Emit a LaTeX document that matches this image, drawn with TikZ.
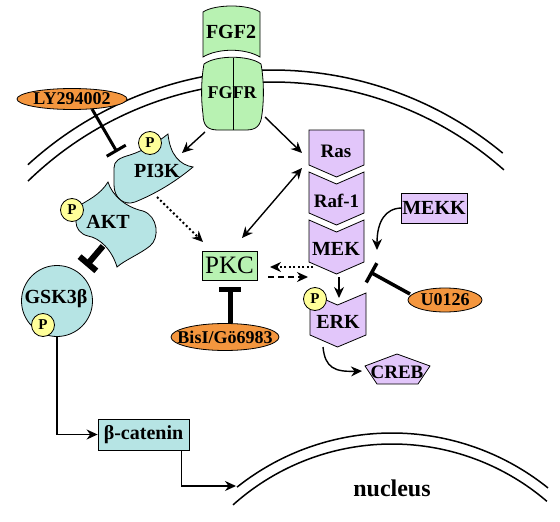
\documentclass[tikz,border=0pt]{standalone}
\usepackage{fontspec}
\setmainfont{Liberation Serif}
\usetikzlibrary{arrows.meta,shapes.geometric}
\definecolor{grn}{RGB}{184,242,178}
\definecolor{cyn}{RGB}{182,228,228}
\definecolor{lav}{RGB}{226,198,250}
\definecolor{org}{RGB}{244,150,62}
\definecolor{ylw}{RGB}{255,255,153}
\tikzset{
 shp/.style={draw=black, line width=0.8pt},
 lbl/.style={inner sep=0pt, font=\bfseries\fontsize{#1}{#1}\selectfont},
 lbl/.default=20,
 mem/.style={line width=1.5pt},
 arr/.style={line width=1.4pt, -{Stealth[length=11pt,width=10pt]}},
 dotl/.style={line width=2pt, dash pattern=on 2pt off 2.5pt},
 dashl/.style={line width=1.6pt, dash pattern=on 6pt off 4pt},
 inh/.style={line width=#1, -{Bar[width=22pt]}},
 pcirc/.style={circle, draw, fill=ylw, line width=0.8pt, minimum size=23pt, inner sep=0pt, font=\bfseries\fontsize{15}{15}\selectfont},
 oval/.style={ellipse, draw, fill=org, line width=0.8pt, inner sep=0pt},
 boxn/.style={rectangle, draw, line width=0.8pt, inner sep=0pt},
}
\begin{document}
\begin{tikzpicture}[x=1pt,y=-1pt]
\useasboundingbox (0,0) rectangle (560,522);
% cell membrane
\draw[mem] plot[domain=-132.4:-50.4, samples=90] ({272+362*cos(\x)},{432+362*sin(\x)});
\draw[mem] plot[domain=-134.2:-48.5, samples=90] ({272+350*cos(\x)},{432+350*sin(\x)});
% nuclear membrane
\draw[mem] plot[domain=-128.5:-51.2, samples=90] ({392+249*cos(\x)},{682+249*sin(\x)});
\draw[mem] plot[domain=-131.9:-49.4, samples=90] ({392+238*cos(\x)},{682+238*sin(\x)});
\node[lbl=24] (nuc) at (392,488) {nucleus};
% FGF2 and FGFR
\draw[shp, fill=grn] (203,12) .. controls (215,4) and (248,4) .. (260,12) -- (260,57)
  .. controls (245,48) and (218,48) .. (203,57) -- cycle;
\node[lbl] (fgf2) at (231,32) {FGF2};
\draw[shp, fill=grn] (204,64) .. controls (216,55) and (249,55) .. (261,64)
  .. controls (264,80) and (264,100) .. (262,114)
  .. controls (261,126) and (256,130) .. (246,130)
  -- (218,130) .. controls (208,130) and (203,126) .. (203,114)
  .. controls (201,100) and (201,80) .. (204,64) -- cycle;
\draw[line width=0.8pt] (233,58) -- (233,130);
\node[lbl=18] (fgfr) at (232,93) {FGFR};
% PI3K
\draw[shp, fill=cyn] (114,168) .. controls (114,161) and (119,158) .. (130,155)
  .. controls (145,150) and (158,142) .. (168,134)
  .. controls (170,155) and (180,165) .. (193,167)
  .. controls (180,178) and (160,192) .. (135,202)
  .. controls (124,206) and (114,198) .. (114,185) -- cycle;
\node[lbl] (pi3k) at (157,171) {PI3K};
\node[pcirc] (p1) at (150,143) {P};
% AKT
\draw[shp, fill=cyn] (76,222) -- (77,207) .. controls (88,200) and (100,195) .. (108,182)
  .. controls (112,195) and (125,207) .. (143,211)
  .. controls (158,216) and (160,238) .. (150,246)
  .. controls (140,254) and (125,260) .. (117,267)
  .. controls (112,250) and (100,238) .. (88,236)
  .. controls (80,234) and (76,228) .. (76,222) -- cycle;
\node[lbl] (akt) at (108,222) {AKT};
\node[pcirc] (p2) at (72,210) {P};
% GSK3b
\node[circle, draw, fill=cyn, line width=0.8pt, minimum size=71pt, inner sep=0pt] (gsk) at (57,301) {};
\node[lbl] (gskt) at (56,299) {GSK3β};
\node[pcirc] (p3) at (43,325) {P};
% beta-catenin
\node[boxn, fill=cyn, minimum width=91pt, minimum height=31pt] (bcat) at (143.5,434.5) {};
\node[lbl] (bcatt) at (143.5,434.5) {β-catenin};
% PKC
\node[boxn, fill=grn, minimum width=55pt, minimum height=29pt, font=\fontsize{25}{25}\selectfont] (pkc) at (229.5,265.5) {PKC};
% inhibitors
\node[oval, minimum width=110pt, minimum height=21pt] (ly) at (72,99) {};
\node[lbl=18] (lyt) at (72,99) {LY294002};
\node[oval, minimum width=108pt, minimum height=27pt] (bis) at (225,337) {};
\node[lbl=18] (bist) at (225,337) {BisI/Gö6983};
\node[oval, minimum width=74pt, minimum height=24pt] (u0) at (445,300) {};
\node[lbl=18] (u0t) at (445,300) {U0126};
% MAPK column
\draw[shp, fill=lav] (309,130) -- (364,130) -- (364,165) -- (336.5,177) -- (309,165) -- cycle;
\node[lbl=19] (ras) at (336,151) {Ras};
\draw[shp, fill=lav] (309,172) -- (336.5,184) -- (364,172) -- (364,213) -- (336.5,225) -- (309,213) -- cycle;
\node[lbl=19] (raf) at (336.5,201) {Raf-1};
\draw[shp, fill=lav] (309,220) -- (336.5,232) -- (364,220) -- (364,262) -- (336.5,274) -- (309,262) -- cycle;
\node[lbl=20] (mek) at (336,249) {MEK};
\draw[shp, fill=lav] (310,293) -- (337.5,305) -- (366,293) -- (366,335) -- (337.5,347) -- (310,335) -- cycle;
\node[lbl=20] (erk) at (338,322) {ERK};
\node[pcirc] (p4) at (315,299) {P};
\node[boxn, fill=lav, minimum width=66pt, minimum height=30pt] (mekk) at (434,208) {};
\node[lbl=20] (mekkt) at (434,208) {MEKK};
\draw[shp, fill=lav] (397,354) -- (430,366) -- (418,384) -- (377,384) -- (365,366) -- cycle;
\node[lbl=19] (creb) at (397,372) {CREB};
% connector end points
\coordinate (fgfrA) at (205,132);
\coordinate (pi3kA) at (182,153);
\coordinate (fgfrB) at (265,117);
\coordinate (rasA) at (302,153);
\coordinate (pkcA) at (242,238);
\coordinate (rasB) at (302,168);
\coordinate (pi3kB) at (157,197);
\coordinate (pkcB) at (203,242);
\coordinate (mekA) at (313,267);
\coordinate (pkcC) at (270,267);
\coordinate (pkcD) at (268,277);
\coordinate (erkA) at (308,277);
\coordinate (mekB) at (339,277);
\coordinate (erkB) at (339,298);
\coordinate (mekC) at (377,250);
\coordinate (erkC) at (323,347);
\coordinate (crebA) at (362,371);
\coordinate (lyA) at (92,109);
\coordinate (pi3kC) at (117,152);
\coordinate (aktA) at (103,246);
\coordinate (gskA) at (86,266);
\coordinate (bisA) at (230,323);
\coordinate (pkcE) at (230,287);
\coordinate (u0A) at (410,294);
\coordinate (mekD) at (370,272);
\coordinate (bcs) at ([xshift=-8pt]bcat.south east);
\coordinate (nucA) at (236,486);
% activating arrows
\draw[arr] (fgfrA) -- (pi3kA);
\draw[arr] (fgfrB) -- (rasA);
\draw[arr, {Stealth[length=11pt,width=10pt]}-{Stealth[length=11pt,width=10pt]}] (pkcA) -- (rasB);
\draw[arr, dotl] (pi3kB) -- (pkcB);
\draw[arr, dotl] (mekA) -- (pkcC);
\draw[arr, dashl] (pkcD) -- (erkA);
\draw[arr, line width=1.2pt] (mekB) -- (erkB);
\draw[arr] (mekkt.west) .. controls (385,208) and (377,222) .. (mekC);
\draw[arr] (erkC) .. controls (325,368) and (335,372) .. (crebA);
\draw[arr] (gsk.south) |- (bcat.west);
\draw[arr] (bcs) |- (nucA);
% inhibitions
\draw[inh=3pt] (lyA) -- (pi3kC);
\draw[inh=6pt] (aktA) -- (gskA);
\draw[inh=5pt] (bisA) -- (pkcE);
\draw[inh=3.5pt] (u0A) -- (mekD);
\end{tikzpicture}
\end{document}
